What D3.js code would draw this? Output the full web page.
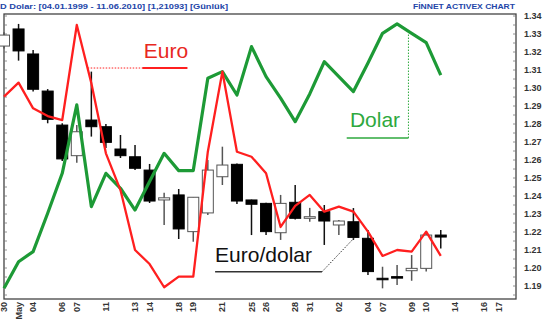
<!DOCTYPE html>
<html>
<head>
<meta charset="utf-8">
<script src="https://cdn.jsdelivr.net/npm/d3@7"></script>
<style>
  body { margin: 0; background: #fff; }
  svg { display: block; font-family: 'Liberation Sans', Arial, sans-serif; }
</style>
</head>
<body>
<div id="chart"></div>
<script>
// trading days, 30 Apr - 17 Jun 2010 (index based)
const days = ['30','03','04','05','06','07','10','11','12','13','14','17','18','19','20','21',
              '24','25','26','27','28','31','01','02','03','04','07','08','09','10','11',
              '14','15','16','17'];
const tickIdx  = [0, 1, 2, 4, 5, 7, 9, 10, 12, 13, 15, 17, 18, 20, 21, 23, 25, 26, 28, 29, 31, 33, 34];
const tickText = ['30','May','04','06','07','11','13','14','18','19','21','25','26','28','31','02','04','07','09','10','14','16','17'];
const yTicks = [1.19,1.20,1.21,1.22,1.23,1.24,1.25,1.26,1.27,1.28,1.29,1.30,1.31,1.32,1.33,1.34];

// Euro/dolar candles
const open  = [1.3233,1.3328,1.3189,1.2983,1.2794,1.2624,1.2822,1.2785,1.2661,1.2618,1.2544,1.2378,1.2406,1.2202,1.2306,1.2507,
               1.2576,1.2378,1.2359,1.2196,1.2365,1.2276,1.2313,1.2239,1.2257,1.2165,1.1943,1.1952,1.1985,1.1998,1.2183];
const high  = [1.3310,1.3356,1.3211,1.2994,1.2804,1.2794,1.3091,1.2800,1.2739,1.2683,1.2578,1.2418,1.2439,1.2393,1.2600,1.2674,
               1.2580,1.2380,1.2362,1.2406,1.2461,1.2334,1.2350,1.2267,1.2333,1.2211,1.2007,1.2017,1.2072,1.2202,1.2211];
const low   = [1.3220,1.3152,1.2980,1.2804,1.2594,1.2585,1.2730,1.2667,1.2611,1.2544,1.2361,1.2239,1.2161,1.2146,1.2294,1.2461,
               1.2355,1.2183,1.2183,1.2156,1.2270,1.2257,1.2128,1.2183,1.2156,1.1961,1.1887,1.1906,1.1929,1.1980,1.2109];
const close = [1.3294,1.3206,1.2993,1.2826,1.2606,1.2757,1.2785,1.2698,1.2624,1.2554,1.2372,1.2390,1.2217,1.2393,1.2544,1.2572,
               1.2372,1.2354,1.2202,1.2359,1.2276,1.2285,1.2261,1.2261,1.2170,1.1980,1.1943,1.1952,1.1998,1.2183,1.2172];

// overlay lines
const euro  = [1.2952,1.3030,1.2887,1.2844,1.2822,1.3350,1.3026,1.2637,1.2433,1.2100,1.2022,1.1893,1.1952,1.1952,1.2646,1.3091,
               1.2646,1.2618,1.2526,1.2228,1.2345,1.2406,1.2313,1.2341,1.2313,1.2202,1.2067,1.2100,1.2091,1.2202,1.2067];
const dolar = [1.1887,1.2035,1.2091,1.2304,1.2526,1.2906,1.2341,1.2526,1.2443,1.2322,1.2480,1.2637,1.2541,1.2541,1.3054,1.3091,
               1.2961,1.3230,1.3063,1.2944,1.2813,1.2967,1.3146,1.3063,1.2980,1.3139,1.3304,1.3356,1.3304,1.3252,1.3072];

const W = 550, H = 324;
const frame = { left: 4, right: 516, top: 14, bottom: 299 };

const svg = d3.select('#chart').append('svg')
  .attr('width', W).attr('height', H);

const x = d3.scaleLinear().domain([0, days.length - 1]).range([4, 499]);
const y = d3.scaleLinear().domain([1.19, 1.34]).range([286, 16]);

// title
svg.append('text')
  .attr('x', 0).attr('y', 9)
  .attr('font-size', 7.5).attr('font-weight', 'bold').attr('fill', '#2345a8')
  .attr('textLength', 228).attr('lengthAdjust', 'spacingAndGlyphs')
  .text('D Dolar: [04.01.1999 - 11.06.2010] [1,21093] [Günlük]');
svg.append('text')
  .attr('x', 515).attr('y', 9).attr('text-anchor', 'end')
  .attr('font-size', 7.5).attr('font-weight', 'bold').attr('fill', '#2345a8')
  .attr('textLength', 102).attr('lengthAdjust', 'spacingAndGlyphs')
  .text('FİNNET ACTIVEX CHART');

// frame
svg.append('rect')
  .attr('x', frame.left).attr('y', frame.top)
  .attr('width', frame.right - frame.left).attr('height', frame.bottom - frame.top)
  .attr('fill', 'none').attr('stroke', '#444').attr('stroke-width', 1.3);

// axis ticks
const minor = d3.range(1.185, 1.341, 0.005);
svg.append('g').selectAll('line').data(minor).join('line')
  .attr('x1', frame.right - 3).attr('x2', frame.right)
  .attr('y1', d => y(d)).attr('y2', d => y(d))
  .attr('stroke', '#777').attr('stroke-width', 0.8);
svg.append('g').selectAll('line').data(minor).join('line')
  .attr('x1', frame.left).attr('x2', frame.left + 3)
  .attr('y1', d => y(d)).attr('y2', d => y(d))
  .attr('stroke', '#777').attr('stroke-width', 0.8);

const yAxis = svg.append('g')
  .attr('transform', 'translate(' + frame.right + ',0)')
  .call(d3.axisRight(y).tickValues(yTicks).tickFormat(d3.format('.2f')).tickSize(0).tickPadding(8));
yAxis.select('.domain').remove();
yAxis.selectAll('text')
  .attr('font-size', 9).attr('font-weight', 'bold').attr('fill', '#333')
  .attr('font-family', "'Liberation Sans', Arial, sans-serif");

// bottom labels, rotated
svg.append('g').selectAll('text').data(tickIdx).join('text')
  .attr('transform', d => 'translate(' + (x(d) + 3) + ',302) rotate(-90)')
  .attr('text-anchor', 'end')
  .attr('font-size', 9).attr('font-weight', 'bold').attr('fill', '#333')
  .text((d, i) => tickText[i]);

// candles
const plot = svg.append('g');
const bw = 11;
const candles = plot.selectAll('g.c').data(open.map((o, i) => i)).join('g');
candles.append('line')
  .attr('x1', i => x(i)).attr('x2', i => x(i))
  .attr('y1', i => y(high[i])).attr('y2', i => y(low[i]))
  .attr('stroke', i => close[i] >= open[i] ? '#555' : '#111')
  .attr('stroke-width', 1.5);
candles.append('rect')
  .attr('x', i => x(i) - bw / 2)
  .attr('width', bw)
  .attr('y', i => y(Math.max(open[i], close[i])))
  .attr('height', i => Math.max(1.5, Math.abs(y(open[i]) - y(close[i]))))
  .attr('fill', i => close[i] > open[i] ? '#fff' : '#000')
  .attr('stroke', i => close[i] > open[i] ? '#555' : '#000')
  .attr('stroke-width', 1);

// lines
const line = d3.line().x((d, i) => x(i)).y(d => y(d));
plot.append('path').datum(dolar)
  .attr('d', line).attr('fill', 'none')
  .attr('stroke', '#1d9a36').attr('stroke-width', 3.2).attr('stroke-linejoin', 'round');
plot.append('path').datum(euro)
  .attr('d', line).attr('fill', 'none')
  .attr('stroke', '#ff1f1f').attr('stroke-width', 2.3).attr('stroke-linejoin', 'round');

// annotations
const ann = svg.append('g').attr('font-size', 21);

ann.append('text').attr('x', x(9.6)).attr('y', y(1.3167)).attr('fill', '#e8281e').text('Euro');
ann.append('line')
  .attr('x1', x(9.5)).attr('x2', x(12.6)).attr('y1', y(1.3111)).attr('y2', y(1.3111))
  .attr('stroke', '#ff1f1f').attr('stroke-width', 2);
ann.append('line')
  .attr('x1', x(5.75)).attr('x2', x(9.5)).attr('y1', y(1.3111)).attr('y2', y(1.3111))
  .attr('stroke', '#ff1f1f').attr('stroke-width', 1).attr('stroke-dasharray', '1.5,1.5');

ann.append('text').attr('x', x(23.76)).attr('y', y(1.2783)).attr('fill', '#2ea83e').text('Dolar');
ann.append('line')
  .attr('x1', x(23.54)).attr('x2', x(27.78)).attr('y1', y(1.2722)).attr('y2', y(1.2722))
  .attr('stroke', '#2ea83e').attr('stroke-width', 1.5);
ann.append('line')
  .attr('x1', x(27.78)).attr('x2', x(27.78)).attr('y1', y(1.2722)).attr('y2', y(1.3300))
  .attr('stroke', '#2ea83e').attr('stroke-width', 1).attr('stroke-dasharray', '1.5,1.5');

ann.append('text').attr('x', x(14.5)).attr('y', y(1.2036)).attr('fill', '#111').text('Euro/dolar');
ann.append('line')
  .attr('x1', x(14.5)).attr('x2', x(21.84)).attr('y1', y(1.1979)).attr('y2', y(1.1979))
  .attr('stroke', '#333').attr('stroke-width', 1.5);
ann.append('line')
  .attr('x1', x(21.84)).attr('x2', x(24.1)).attr('y1', y(1.1979)).attr('y2', y(1.2171))
  .attr('stroke', '#333').attr('stroke-width', 1).attr('stroke-dasharray', '1.5,1.5');
</script>
</body>
</html>
